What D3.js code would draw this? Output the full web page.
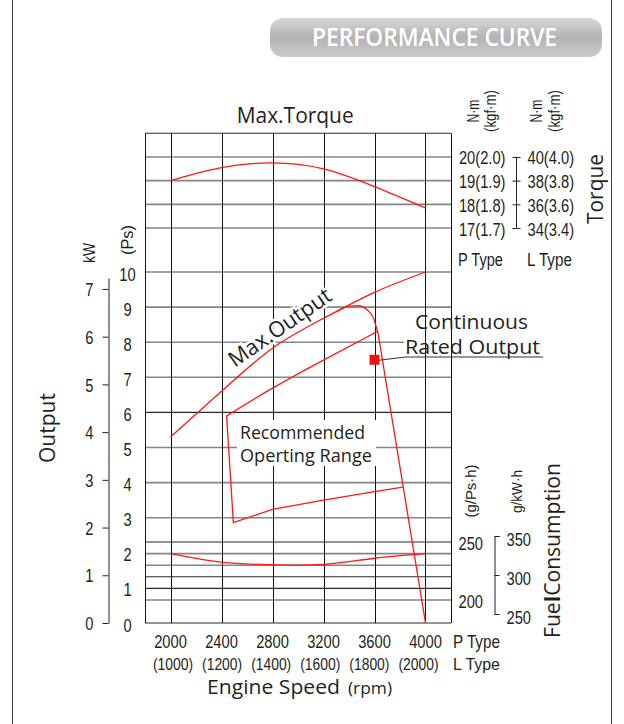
<!DOCTYPE html>
<html><head><meta charset="utf-8">
<script src="https://cdn.jsdelivr.net/npm/d3@7"></script>
<style>body{margin:0;background:#fff}svg{display:block}</style>
</head><body>
<svg id="c" width="624" height="724"></svg>
<script>
// ---------------- DATA ----------------
const rpmP = [2000, 2400, 2800, 3200, 3600, 4000];          // P type engine speed
const rpmL = [1000, 1200, 1400, 1600, 1800, 2000];          // L type engine speed
const torqueP = [19.0, 19.55, 19.75, 19.5, 18.75, 17.85];   // Max torque, N·m (P type)
const maxOutputPs = [5.3, 6.6, 7.83, 8.68, 9.42, 10.0];     // Max output, Ps
const governorRpm = [3300, 3400, 3470, 3540, 3590, 3615, 3628];
const governorPs  = [8.86, 9.03, 9.04, 8.93, 8.70, 8.42, 8.25];
const dropRpm = [3628, 4000];
const dropPs  = [8.25, 0];
const continuousRpm = [2440, 2800, 3200, 3620];
const continuousPs  = [5.9, 6.69, 7.49, 8.3];
const rangeRpm = [2440, 2493, 2800, 3200, 3600, 3822];     // recommended range (left + bottom)
const rangePs  = [5.9, 2.86, 3.24, 3.5, 3.74, 3.87];
const ratedRpm = 3600, ratedPs = 7.5;                       // continuous rated output point
const fuelP = [240, 232.6, 230.4, 230.6, 236, 240];         // g/Ps·h

const xGrid = [1800, 2000, 2400, 2800, 3200, 3600, 4000, 4200];
const torqueGrid = [17, 18, 19, 20, 21];
const psGrid = [3, 4, 5, 6, 7, 8, 9, 10];
const fuelGrid = [200, 210, 220, 230, 240, 250];
const psTicks = [0,1,2,3,4,5,6,7,8,9,10];
const kwTicks = [0,1,2,3,4,5,6,7];
const torquePTicks = [17, 18, 19, 20];
const torquePLabels = ["17(1.7)", "18(1.8)", "19(1.9)", "20(2.0)"];
const torqueLTicks = [34, 36, 38, 40];
const torqueLLabels = ["34(3.4)", "36(3.6)", "38(3.8)", "40(4.0)"];
const fuelPTicks = [200, 250];
const fuelLTicks = [250, 300, 350];

// ---------------- STYLE ----------------
const FN = "'Liberation Sans Narrow','Liberation Sans',Arial,sans-serif";
const FS = "'Open Sans','Noto Sans',sans-serif";
const INK = "#231f20";
const RED = "#ff1616";
const GRAY = "#858585";
const darkH = {ps: [6], fuel: [250, 220, 210], tq: [21]};

// narrow-font detection: if the narrow face is missing, squeeze the regular one
const cv = document.createElement("canvas").getContext("2d");
cv.font = "20px 'Liberation Sans Narrow', monospace"; const wN = cv.measureText("2000(1.8)").width;
cv.font = "20px monospace"; const wM = cv.measureText("2000(1.8)").width;
const SQ = Math.abs(wN - wM) < 0.5 ? 0.84 : 1.0;
function narrow(sel) {
  sel.each(function () {
    const w = this.getComputedTextLength() * SQ;
    d3.select(this).attr("textLength", w).attr("lengthAdjust", "spacingAndGlyphs");
  });
  return sel;
}

// ---------------- SCALES ----------------
const x = d3.scaleLinear().domain([1800, 4200]).range([145, 451]);
const xL = d3.scaleLinear().domain([1000, 2000]).range([173, 418.5]);
const yPs = d3.scaleLinear().domain([0, 10]).range([623, 272]);
const kwPerPs = 0.7355;
const yKw = d3.scaleLinear().domain([0, 7.23]).range([yPs(0), yPs(7.23 / kwPerPs)]);
const yTq = d3.scaleLinear().domain([17, 21]).range([228, 133.3]);
const yTqL = d3.scaleLinear().domain([34, 42]).range([228, 133.3]);
const yFuel = d3.scaleLinear().domain([200, 250]).range([600, 542]);
const yFuelL = d3.scaleLinear().domain([250, 350]).range([614, 536]);

const svg = d3.select("#c");
function fit(sel, w) { sel.attr("textLength", w).attr("lengthAdjust", "spacingAndGlyphs"); return sel; }

// page borders
svg.append("line").attr("x1", 12.5).attr("x2", 12.5).attr("y1", 0).attr("y2", 724).attr("stroke", "#444");
svg.append("line").attr("x1", 611.5).attr("x2", 611.5).attr("y1", 0).attr("y2", 724).attr("stroke", "#444");

// title box
const defs = svg.append("defs");
const g1 = defs.append("linearGradient").attr("id", "tg").attr("x1", 0).attr("y1", 0).attr("x2", 0).attr("y2", 1);
g1.append("stop").attr("offset", "0%").attr("stop-color", "#d8d8d8");
g1.append("stop").attr("offset", "50%").attr("stop-color", "#b3b3b3");
g1.append("stop").attr("offset", "100%").attr("stop-color", "#cbcbcb");
svg.append("rect").attr("x", 270).attr("y", 18).attr("width", 332).attr("height", 39).attr("rx", 13)
  .attr("fill", "url(#tg)");
fit(svg.append("text").attr("x", 312).attr("y", 45.5).attr("fill", "#fff")
  .style("font-family", FS).style("font-size", "25px").style("font-weight", 600).text("PERFORMANCE CURVE"), 245);

// ---------------- GRID ----------------
const hLines = [];
torqueGrid.forEach(v => hLines.push({y: yTq(v), dark: darkH.tq.includes(v)}));
psGrid.forEach(v => hLines.push({y: yPs(v), dark: darkH.ps.includes(v)}));
fuelGrid.forEach(v => hLines.push({y: yFuel(v), dark: darkH.fuel.includes(v)}));
hLines.push({y: yPs(0), dark: true});
svg.append("g").selectAll("line").data(hLines).join("line")
  .attr("x1", x(1800)).attr("x2", x(4200))
  .attr("y1", d => d.y).attr("y2", d => d.y)
  .attr("stroke", d => d.dark ? "#2a2a2a" : GRAY)
  .attr("stroke-width", d => d.dark ? 1.1 : 1.6);

// white background behind "Continuous Rated Output" (hides horizontal lines only)
svg.append("rect").attr("x", 404).attr("y", 312).attr("width", 48).attr("height", 43).attr("fill", "#fff");

svg.append("g").selectAll("line").data(xGrid).join("line")
  .attr("x1", d => Math.round(x(d)) + 0.5).attr("x2", d => Math.round(x(d)) + 0.5)
  .attr("y1", yTq(21)).attr("y2", yPs(0))
  .attr("stroke", "#111").attr("stroke-width", 1);

// white background behind "Recommended Operting Range"
svg.append("rect").attr("x", 237).attr("y", 420).attr("width", 139).attr("height", 46).attr("fill", "#fff");

// Max.Output label with halo (before curves)
svg.append("text").attr("transform", "translate(235,368) rotate(-35)")
  .style("font-family", FS).style("font-size", "22px").attr("fill", INK)
  .attr("stroke", "#fff").attr("stroke-width", 5).attr("paint-order", "stroke")
  .attr("textLength", 120).attr("lengthAdjust", "spacingAndGlyphs")
  .text("Max.Output");

// ---------------- CURVES ----------------
const curveG = svg.append("g").attr("fill", "none").attr("stroke", RED).attr("stroke-width", 1.3);
const lineTq = d3.line().x((d, i) => x(rpmP[i])).y(d => yTq(d)).curve(d3.curveNatural);
curveG.append("path").attr("d", lineTq(torqueP));
const linePs = d3.line().x(d => x(d[0])).y(d => yPs(d[1]));
curveG.append("path").attr("d", linePs.curve(d3.curveNatural)(rpmP.map((r, i) => [r, maxOutputPs[i]])));
curveG.append("path").attr("d", linePs.curve(d3.curveMonotoneX)(governorRpm.map((r, i) => [r, governorPs[i]])));
curveG.append("path").attr("d", linePs.curve(d3.curveLinear)(dropRpm.map((r, i) => [r, dropPs[i]])));
curveG.append("path").attr("d", linePs.curve(d3.curveNatural)(continuousRpm.map((r, i) => [r, continuousPs[i]])));
curveG.append("path").attr("d", linePs.curve(d3.curveLinear)(rangeRpm.map((r, i) => [r, rangePs[i]])));
const lineFuel = d3.line().x((d, i) => x(rpmP[i])).y(d => yFuel(d)).curve(d3.curveNatural);
curveG.append("path").attr("d", lineFuel(fuelP));

// rated point & leader
const rx = x(ratedRpm), ry = yPs(ratedPs);
svg.append("line").attr("x1", rx).attr("y1", ry + 1).attr("x2", 406).attr("y2", 357)
  .attr("stroke", "#333").attr("stroke-width", 1);
svg.append("line").attr("x1", 406).attr("y1", 357).attr("x2", 543).attr("y2", 357)
  .attr("stroke", "#333").attr("stroke-width", 1);
svg.append("rect").attr("x", rx - 5).attr("y", ry - 5).attr("width", 10).attr("height", 10)
  .attr("fill", "#f01010");

// ---------------- AXES ----------------
const NUM = "17.5px";
// kW axis
const kwAxis = svg.append("g").attr("transform", "translate(108.5,0)")
  .call(d3.axisLeft(yKw).tickValues(kwTicks).tickSize(6).tickSizeOuter(0).tickPadding(9).tickFormat(d3.format("d")));
kwAxis.selectAll("path,line").attr("stroke", INK);
narrow(kwAxis.selectAll("text").style("font-family", FN).style("font-size", NUM).attr("fill", INK).attr("dy", "0.38em"));

// Ps labels (no axis line)
const psAxis = svg.append("g").attr("transform", "translate(127.5,0)")
  .call(d3.axisLeft(yPs).tickValues(psTicks).tickSize(0).tickPadding(0));
psAxis.select(".domain").remove();
narrow(psAxis.selectAll("text").attr("text-anchor", "middle").style("font-family", FN).style("font-size", NUM)
  .attr("fill", INK).attr("dy", "0.46em"));

// torque axis
const tqX = 516.5;
svg.append("line").attr("x1", tqX).attr("x2", tqX).attr("y1", yTq(20)).attr("y2", yTq(17)).attr("stroke", INK);
const tqAxisP = svg.append("g").attr("transform", `translate(${tqX},0)`)
  .call(d3.axisLeft(yTq).tickValues(torquePTicks).tickSize(4).tickPadding(7)
    .tickFormat((d, i) => torquePLabels[i]));
tqAxisP.select(".domain").remove();
tqAxisP.selectAll("line").attr("stroke", INK);
narrow(tqAxisP.selectAll("text").style("font-family", FN).style("font-size", NUM).attr("fill", INK).attr("dy", "0.4em"));
const tqAxisL = svg.append("g").attr("transform", `translate(${tqX},0)`)
  .call(d3.axisRight(yTqL).tickValues(torqueLTicks).tickSize(4).tickPadding(7)
    .tickFormat((d, i) => torqueLLabels[i]));
tqAxisL.select(".domain").remove();
tqAxisL.selectAll("line").attr("stroke", INK);
narrow(tqAxisL.selectAll("text").style("font-family", FN).style("font-size", NUM).attr("fill", INK).attr("dy", "0.4em"));

// fuel axes
const fuelAxisP = svg.append("g").attr("transform", "translate(483,0)")
  .call(d3.axisLeft(yFuel).tickValues(fuelPTicks).tickSize(0).tickPadding(0));
fuelAxisP.select(".domain").remove();
narrow(fuelAxisP.selectAll("text").style("font-family", FN).style("font-size", NUM).attr("fill", INK).attr("dy", "0.42em"));
const fuelAxisL = svg.append("g").attr("transform", "translate(494.5,0)")
  .call(d3.axisRight(yFuelL).tickValues(fuelLTicks).tickSize(5).tickSizeOuter(5).tickPadding(7));
fuelAxisL.selectAll("path,line").attr("stroke", INK);
narrow(fuelAxisL.selectAll("text").style("font-family", FN).style("font-size", NUM).attr("fill", INK).attr("dy", "0.52em"));

// x axis labels
narrow(svg.append("g").selectAll("text").data(rpmP).join("text")
  .attr("x", d => x(d)).attr("y", 648).attr("text-anchor", "middle")
  .style("font-family", FN).style("font-size", NUM).attr("fill", INK).text(d => d));
narrow(svg.append("g").selectAll("text").data(rpmL).join("text")
  .attr("x", d => xL(d)).attr("y", 669.5).attr("text-anchor", "middle")
  .style("font-family", FN).style("font-size", "16.5px").attr("fill", INK).text(d => `(${d})`));

// ---------------- TEXT LABELS ----------------
function txt(x0, y0, s, size, fam, opts = {}) {
  const t = svg.append("text").attr("x", x0).attr("y", y0).style("font-family", fam)
    .style("font-size", size + "px").attr("fill", INK).text(s);
  if (opts.anchor) t.attr("text-anchor", opts.anchor);
  if (opts.rot) t.attr("transform", `rotate(${opts.rot},${x0},${y0})`);
  if (opts.w) fit(t, opts.w);
  return t;
}
txt(236.7, 123, "Max.Torque", 21, FS, {w: 117});
txt(458, 266, "P Type", 17.5, FN, {w: 45});
txt(527, 266, "L Type", 17.5, FN, {w: 45});
txt(453, 648, "P Type", 17.5, FN, {w: 47});
txt(453, 669.5, "L Type", 17, FN, {w: 47});
txt(207, 694, "Engine Speed", 19.5, FS, {w: 133});
txt(348, 694, "(rpm)", 16, FS, {w: 44});
txt(415, 329, "Continuous", 19.5, FS, {w: 113});
txt(405, 354, "Rated Output", 19.5, FS, {w: 135});
txt(240, 439, "Recommended", 18, FS, {w: 125});
txt(240, 462, "Operting Range", 18, FS, {w: 132});

// rotated labels
txt(55, 428, "Output", 21, FS, {anchor: "middle", rot: -90, w: 70});
txt(603, 189, "Torque", 21, FS, {anchor: "middle", rot: -90, w: 70});
const fc = svg.append("text").attr("x", 560).attr("y", 550.5).attr("text-anchor", "middle")
  .attr("transform", "rotate(-90,560,550.5)").style("font-family", FS).style("font-size", "21px").attr("fill", INK);
fc.append("tspan").text("Fue");
fc.append("tspan").style("font-weight", "bold").text("l");
fc.append("tspan").text("Consumption");
fit(fc, 175);

txt(94.5, 253, "kW", 17, FN, {anchor: "middle", rot: -90, w: 20});
txt(133, 240, "(Ps)", 17, FN, {anchor: "middle", rot: -90, w: 30});
txt(478.5, 111, "N·m", 17, FN, {anchor: "middle", rot: -90, w: 23});
txt(496, 111, "(kgf·m)", 17, FN, {anchor: "middle", rot: -90, w: 42});
txt(542, 111, "N·m", 17, FN, {anchor: "middle", rot: -90, w: 23});
txt(559.5, 111, "(kgf·m)", 17, FN, {anchor: "middle", rot: -90, w: 42});
txt(475.5, 491, "(g/Ps·h)", 15.5, FN, {anchor: "middle", rot: -90, w: 53});
txt(521.5, 491.5, "g/kW·h", 15.5, FN, {anchor: "middle", rot: -90, w: 43});
</script>
</body></html>
